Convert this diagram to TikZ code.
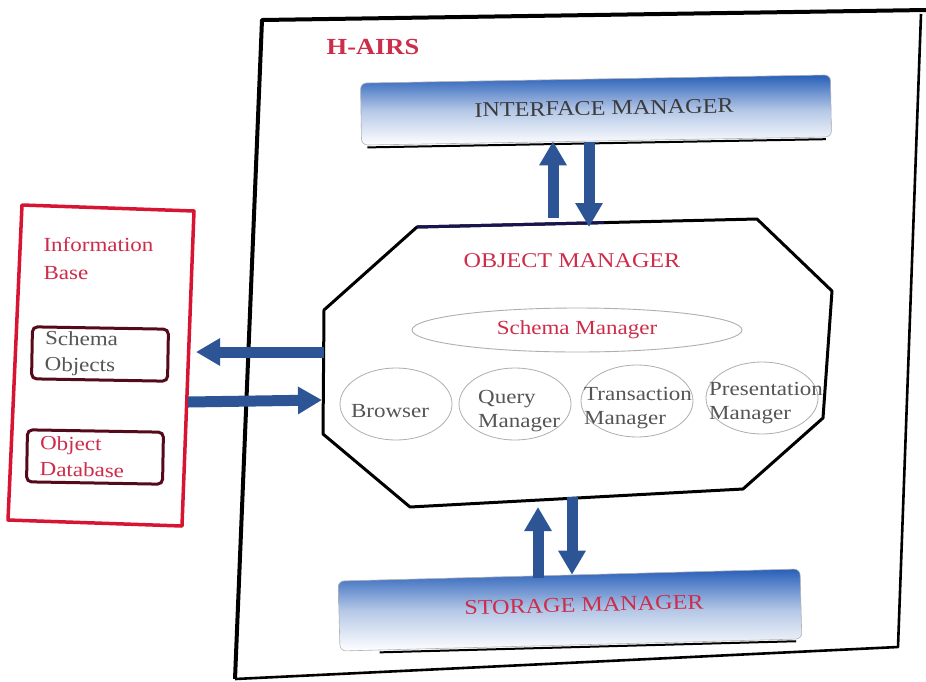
\documentclass[tikz,border=0pt]{standalone}
\usepackage{fontspec}
\setmainfont{Liberation Serif}
\newfontfamily\widefont[FakeStretch=1.15]{Liberation Serif}
\usetikzlibrary{arrows.meta,shapes.geometric,calc}
\definecolor{barblue}{RGB}{40,95,185}
\definecolor{arrowblue}{RGB}{45,85,150}
\definecolor{labelred}{RGB}{205,45,75}
\definecolor{boxred}{RGB}{215,20,50}
\definecolor{darkbrown}{RGB}{85,10,25}
\definecolor{textgray}{RGB}{85,85,85}
\definecolor{ovalgray}{RGB}{175,175,175}
\definecolor{navy}{RGB}{25,20,80}

\tikzset{
  frameline/.style={line width=4pt, black, line join=round},
  bar/.style={rounded corners=6pt, minimum height=62pt, top color=barblue, bottom color=white,
    middle color=barblue!35, draw=gray!60, line width=0.6pt},
  bartext/.style={font=\widefont\fontsize{21}{23}\selectfont},
  flowarrow/.style={line width=11pt, arrowblue,
    -{Triangle[length=24pt,width=26pt]}, shorten >=0pt},
  unit/.style={ellipse, draw=ovalgray, line width=0.8pt, inner sep=0pt,
    minimum width=112pt, minimum height=72pt},
  unittext/.style={align=left, inner sep=0pt,
    font=\widefont\fontsize{20}{24}\selectfont, text=textgray},
  infobox/.style={draw=darkbrown, line width=3pt, rounded corners=5pt, align=left,
    text width=110pt, minimum height=52pt, inner xsep=13pt, inner ysep=2pt,
    font=\widefont\fontsize{20}{26}\selectfont}
}

\begin{document}
\begin{tikzpicture}[x=1pt,y=-1pt]
\useasboundingbox (0,0) rectangle (926,681);
\fill[white] (0,0) rectangle (926,681);

% outer H-AIRS frame
\coordinate (ftl) at (262,20);
\coordinate (ftr) at (926,10);
\coordinate (frt) at (921,14);
\coordinate (fbr) at (898,647);
\coordinate (fbl) at (235,679);
\draw[frameline] (fbl) -- (ftl) -- (ftr);
\draw[frameline, line width=2.6pt] (frt) -- (fbr) -- (fbl);
\node[font=\widefont\bfseries\fontsize{23}{25}\selectfont, text=labelred] (hairs) at (373,47) {H-AIRS};

% interface manager bar
\node[bar, minimum width=470pt, rotate=1] (im) at (596,110) {};
\node[bartext, text=textgray!70!black, rotate=1] (imtext) at (604,108) {INTERFACE MANAGER};
\draw[line width=2pt] ($(im.south west)+(6,2)$) -- ($(im.south east)+(-6,2)$);

% object manager octagon
\coordinate (o1) at (417,227);
\coordinate (o2) at (757,219);
\coordinate (o3) at (832,291);
\coordinate (o4) at (823,418);
\coordinate (o5) at (743,489);
\coordinate (o6) at (410,507);
\coordinate (o7) at (323,434);
\coordinate (o8) at (324,310);
\draw[line width=3pt, line join=round] (o1) -- (o2) -- (o3) -- (o4) -- (o5) -- (o6) -- (o7) -- (o8) -- cycle;
\draw[navy, line width=3pt] (o1) -- ($(o1)!0.55!(o2)$);
\node[font=\widefont\fontsize{21}{23}\selectfont, text=labelred] (omtext) at (572,261) {OBJECT MANAGER};

% components inside the object manager
\node[ellipse, draw=ovalgray, line width=0.9pt, minimum width=330pt, minimum height=44pt,
  inner sep=0pt] (sm) at (577,330) {};
\node[font=\widefont\fontsize{20}{22}\selectfont, text=labelred] (smtext) at (sm) {Schema Manager};

\node[unit] (br) at (396,404) {};
\node[unit] (qm) at (515,404) {};
\node[unit] (tm) at (637,401) {};
\node[unit] (pm) at (762,398) {};
\node[unittext] (brtext) at (390,411) {Browser};
\node[unittext, anchor=west] (qmtext) at (478,411) {Query\\Manager};
\node[unittext, anchor=west] (tmtext) at (584,408) {Transaction\\Manager};
\node[unittext, anchor=west] (pmtext) at (709,403) {Presentation\\Manager};

% storage manager bar
\node[bar, minimum width=462pt, minimum height=70pt, rotate=1.5] (stm) at (570,610) {};
\node[bartext, text=labelred, rotate=1.5] (stmtext) at (584,605) {STORAGE MANAGER};
\draw[line width=2pt] ($(stm.south west)+(40,1)$) -- ($(stm.south east)+(-6,2)$);

% information base
\coordinate (i1) at (22,205);
\coordinate (i2) at (194,211);
\coordinate (i3) at (182,526);
\coordinate (i4) at (8,520);
\draw[boxred, line width=3.5pt, line join=round] (i1) -- (i2) -- (i3) -- (i4) -- cycle;
\node[align=left, anchor=north west, font=\widefont\fontsize{20}{28}\selectfont, text=labelred] (ibtext) at (40,234) {Information\\Base};
\node[infobox, text=textgray, rotate=-1] (so) at (100,354) {Schema\\Objects};
\node[infobox, text=labelred, rotate=-1] (od) at (95,457) {Object\\Database};

% links between the managers
\coordinate (imUp) at (553,218);
\coordinate (imDown) at (589,142);
\draw[flowarrow] (imUp) -- (imUp |- im.south);
\draw[flowarrow] (imDown) -- (imDown |- o1);
\coordinate (stUp) at (538,578);
\coordinate (stDown) at (572,497);
\draw[flowarrow] (stUp) -- (stUp |- o6);
\draw[flowarrow] (stDown) -- (stDown |- stm.north);

% links to the information base
\coordinate (omLeftA) at (324,352);
\coordinate (omLeftB) at (322,400);
\coordinate (ibOut) at (188,402);
\draw[flowarrow] (omLeftA) -- (196,352);
\draw[flowarrow] (ibOut) -- (omLeftB);
\end{tikzpicture}
\end{document}
